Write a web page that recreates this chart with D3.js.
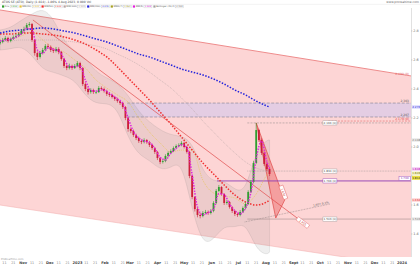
<!DOCTYPE html>
<html>
<head>
<meta charset="utf-8">
<script src="https://cdn.jsdelivr.net/npm/d3@7/dist/d3.min.js"></script>
<style>
  html, body { margin: 0; padding: 0; background: #fff; }
  #chart svg { display: block; }
  text { font-family: "DejaVu Sans", Arial, sans-serif; }
</style>
</head>
<body>
<div id="chart"></div>
<script>
// ---- values ----
var barFrom = "2022-10-06", barTo = "2023-08-06";   // one bar every 3 days
var firstOpen = 2.715;
var closes = [2.724,2.738,2.752,2.731,2.745,2.759,2.766,2.779,2.800,2.814,
  2.841,2.848,2.738,2.648,2.621,2.648,2.669,2.697,2.690,2.669,
  2.662,2.676,2.655,2.607,2.559,2.545,2.559,2.545,2.559,2.579,
  2.545,2.434,2.400,2.379,2.393,2.379,2.379,2.407,2.400,2.386,
  2.366,2.359,2.345,2.331,2.317,2.303,2.276,2.200,2.124,2.110,
  2.083,2.062,2.041,2.034,2.048,2.034,2.014,1.993,1.966,1.924,
  1.897,1.903,1.938,1.959,1.972,1.993,2.007,2.014,2.028,2.000,
  1.966,1.800,1.655,1.572,1.531,1.524,1.545,1.552,1.545,1.559,
  1.614,1.697,1.724,1.676,1.614,1.621,1.586,1.559,1.538,1.531,
  1.552,1.579,1.607,1.690,1.759,1.890,2.117,2.048,1.959,1.883,
  1.848,1.814];
var highs = [2.740,2.752,2.765,2.760,2.755,2.770,2.781,2.790,2.812,2.830,
  2.855,2.862,2.855,2.745,2.660,2.662,2.683,2.710,2.712,2.700,
  2.682,2.690,2.688,2.662,2.615,2.570,2.575,2.568,2.572,2.592,
  2.588,2.552,2.445,2.410,2.405,2.402,2.392,2.420,2.418,2.410,
  2.395,2.378,2.368,2.352,2.340,2.326,2.312,2.283,2.208,2.135,
  2.120,2.092,2.070,2.052,2.060,2.055,2.042,2.022,2.000,1.972,
  1.930,1.915,1.950,1.970,1.984,2.004,2.018,2.026,2.040,2.035,
  2.008,1.972,1.808,1.662,1.580,1.545,1.558,1.566,1.562,1.572,
  1.626,1.710,1.738,1.730,1.682,1.635,1.628,1.592,1.565,1.548,
  1.565,1.590,1.620,1.702,1.772,1.905,2.166,2.125,2.060,1.968,
  1.895,1.860];
var lows = [2.705,2.715,2.730,2.720,2.722,2.738,2.750,2.758,2.772,2.790,
  2.808,2.830,2.725,2.630,2.600,2.610,2.638,2.660,2.676,2.655,
  2.648,2.652,2.640,2.595,2.545,2.530,2.535,2.532,2.538,2.550,
  2.530,2.420,2.385,2.362,2.368,2.366,2.365,2.372,2.390,2.375,
  2.352,2.345,2.334,2.318,2.305,2.290,2.262,2.185,2.105,2.095,
  2.070,2.048,2.028,2.020,2.025,2.022,2.000,1.980,1.952,1.910,
  1.882,1.886,1.895,1.930,1.950,1.965,1.985,1.998,2.005,1.990,
  1.955,1.785,1.640,1.555,1.515,1.508,1.515,1.535,1.532,1.535,
  1.550,1.605,1.688,1.665,1.600,1.602,1.575,1.545,1.524,1.518,
  1.522,1.545,1.570,1.600,1.682,1.750,1.882,2.035,1.945,1.870,
  1.835,1.800];

// moving averages, read every 2nd bar (MM5) or every 4th bar (others)
var mm5 = [2.731,2.738,2.743,2.757,2.781,2.819,2.809,2.669,2.646,2.685,
  2.674,2.664,2.607,2.554,2.554,2.561,2.460,2.391,2.384,2.395,
  2.384,2.357,2.331,2.299,2.200,2.106,2.062,2.041,2.032,1.991,
  1.929,1.912,1.957,1.991,2.016,1.998,1.807,1.586,1.533,1.547,
  1.572,1.678,1.671,1.607,1.561,1.540,1.579,1.685,1.922,2.041,
  1.897,1.848];
var mm20 = [2.738,2.745,2.766,2.793,2.738,2.683,2.655,2.600,2.545,2.462,2.407,2.359,2.310,2.200,
  2.103,2.028,1.966,1.979,1.979,1.772,1.683,1.662,1.648,1.607,1.676,1.807,1.828];
var mm50 = [2.779,2.779,2.786,2.786,2.779,2.772,2.759,2.738,2.710,2.669,2.621,2.552,2.476,2.400,
  2.324,2.241,2.159,2.069,1.979,1.890,1.814,1.738,1.669,1.621,1.600,1.621,1.634];
var mm100 = [2.724,2.731,2.738,2.738,2.738,2.738,2.731,2.724,2.710,2.697,2.676,2.641,2.607,2.566,
  2.517,2.462,2.407,2.338,2.262,2.179,2.103,2.028,1.959,1.897,1.855,1.834,1.828];
var mm200 = [2.786,2.800,2.807,2.814,2.821,2.814,2.800,2.786,2.766,2.745,2.724,2.697,2.669,2.641,
  2.621,2.593,2.566,2.538,2.517,2.497,2.469,2.434,2.393,2.359,2.317,2.283,2.276];
var bollUpper = [2.807,2.821,2.876,2.917,2.959,2.890,2.724,2.662,2.614,2.517,2.476,2.441,2.359,2.241,
  2.172,2.117,2.083,2.076,2.034,1.828,1.759,1.772,1.703,1.690,1.979,2.048,2.048];
var bollLower = [2.669,2.676,2.697,2.634,2.531,2.517,2.490,2.462,2.352,2.297,2.303,2.269,2.062,1.945,
  1.910,1.841,1.855,1.910,1.566,1.324,1.359,1.462,1.441,1.483,1.290,1.255,1.276];

// drawn objects: [date, price]
var channelTop = [["2022-10-06", 2.945], ["2024-01-11", 2.490]];
var channelBottom = [["2022-10-06", 1.600], ["2024-01-11", 1.172]];
var redTrend = [["2022-11-12", 2.876], ["2023-09-17", 1.455]];
var wedge = [["2023-07-21", 2.166], ["2023-08-22", 1.634], ["2023-08-12", 1.510]];
var grayTrend = [["2023-07-08", 1.483], ["2023-10-12", 1.607]];
var zoneFrom = "2023-02-26", zonePrices = [2.303, 2.207];
var levelPrices = [2.166, 2.179, 1.834, 1.766, 1.503];
var levelStarts = ["2023-07-11", "2023-10-10", "2023-07-11", "2023-06-07", "2023-07-11"];
var levelTagDate = "2023-10-04";

// axis labels
var priceTicks = [2.8, 2.6, 2.4, 2.2, 2.0, 1.8, 1.6, 1.4];
var monthStarts = ["2022-11-01","2022-12-01","2023-01-01","2023-02-01","2023-03-01","2023-04-01","2023-05-01",
  "2023-06-01","2023-07-01","2023-08-01","2023-09-01","2023-10-01","2023-11-01","2023-12-01","2024-01-01"];
var monthNames = ["Nov","Dec","2023","Feb","Mar","Apr","May","Jun","Jul","Aug","Sept","Oct","Nov","Dec","2024"];
var minorDays = [11, 21];
var legendNames = ["Prix", "MM(20)", "MM(50)", "MM(100)", "MM(200)", "MMA(7)", "MM(5)", "Bollinger (20,2)"];
var legendValues = ["1.814", "1.828", "1.634", "1.828", "2.276", "1.851", "1.848", "2.048"];
var legendColors = ["#2f9e2f", "#e6c43c", "#f03030", "#b4a4a4", "#2424dc", "#a4a020", "#e020e0", "#a0a0a0"];

// ---- drawing ----
var parse = d3.timeParse("%Y-%m-%d");
var fmt = d3.format(".3f");
var W = 420, H = 265;
var plot = { left: 0, right: 411, top: 8, bottom: 257 };

var x = d3.scaleTime().domain([parse("2022-10-06"), parse("2024-01-11")]).range([plot.left, plot.right]);
var y = d3.scaleLinear().domain([2.6, 1.4]).range([60, 234]);

var barDates = d3.timeDay.range(parse(barFrom), parse(barTo), 3);
var last = closes.length - 1;
var every4 = d3.range(0, last, 4).concat([last]);
var every2 = d3.range(0, last, 2).concat([last]);

var svg = d3.select("#chart").append("svg").attr("width", W).attr("height", H);
svg.append("rect").attr("width", W).attr("height", H).attr("fill", "#fff");
svg.append("defs").append("clipPath").attr("id", "clip").append("rect")
    .attr("x", plot.left).attr("y", plot.top)
    .attr("width", plot.right - plot.left).attr("height", plot.bottom - plot.top);
var g = svg.append("g").attr("clip-path", "url(#clip)");

function pt(d) { return [x(parse(d[0])), y(d[1])]; }
function seg(a, b, color, w, dash) {
    var l = g.append("line").attr("x1", a[0]).attr("y1", a[1]).attr("x2", b[0]).attr("y2", b[1])
        .attr("stroke", color).attr("stroke-width", w);
    if (dash) l.attr("stroke-dasharray", dash);
    return l;
}

// pink regression channel
var chan = [channelTop[0], channelTop[1], channelBottom[1], channelBottom[0]].map(pt);
g.append("path").attr("d", "M" + chan.join("L") + "Z").attr("fill", "#fdd5d5");
seg(chan[0], chan[1], "#ee8c8c", 1);
seg(chan[3], chan[2], "#f3b4b4", 0.6);

// resistance zone
var zx = x(parse(zoneFrom));
g.append("rect").attr("x", zx).attr("y", y(zonePrices[0]))
    .attr("width", plot.right - zx).attr("height", y(zonePrices[1]) - y(zonePrices[0]))
    .attr("fill", "#e4cde3");
zonePrices.forEach(function (p) {
    seg([zx, y(p)], [plot.right, y(p)], "#8e8698", 0.7, "3,1.5");
});

// bollinger envelope
var bollArea = d3.area()
    .x(function (d, k) { return x(barDates[every4[k]]); })
    .y0(function (d, k) { return y(bollLower[k]); })
    .y1(function (d) { return y(d); })
    .curve(d3.curveBasis);
g.append("path").datum(bollUpper).attr("d", bollArea)
    .attr("fill", "rgba(140,140,140,0.14)")
    .attr("stroke", "rgba(120,120,120,0.3)").attr("stroke-width", 0.5);

// long red trend line and falling wedge
var rt = redTrend.map(pt);
seg(rt[0], rt[1], "#e35c5c", 0.8);
var wd = wedge.map(pt);
g.append("path").attr("d", "M" + wd.join("L") + "Z")
    .attr("fill", "rgba(228,70,70,0.38)").attr("stroke", "#e04848").attr("stroke-width", 0.7);
var gt = grayTrend.map(pt);
seg(gt[0], gt[1], "#8c8080", 0.6, "0.8,0.8");

// horizontal levels
var levelStyle = [
    { c: "#a09494", w: 0.6, dash: "2,1.2" },
    { c: "#e46a6a", w: 0.6, dash: "2,1.2" },
    { c: "#a09494", w: 0.6, dash: "0.8,0.8" },
    { c: "#8e3cb4", w: 0.9, dash: null },
    { c: "#a48c8c", w: 0.6, dash: null }
];
levelPrices.forEach(function (p, i) {
    var s = levelStyle[i];
    seg([x(parse(levelStarts[i])), y(p)], [plot.right, y(p)], s.c, s.w, s.dash);
});

// moving averages
function maPath(vals, idx) {
    return d3.line()
        .x(function (d, k) { return x(barDates[idx[k]]); })
        .y(function (d) { return y(d); })
        .curve(d3.curveMonotoneX)(vals);
}
function drawMA(vals, idx, color, w, dash) {
    g.append("path").attr("d", maPath(vals, idx)).attr("fill", "none")
        .attr("stroke", color).attr("stroke-width", w).attr("stroke-dasharray", dash);
}
drawMA(mm100, every4, "#b8a6a6", 0.6, "1,1");
drawMA(mm20, every4, "#e6c43c", 0.6, "1,1");
drawMA(mm50, every4, "#f03030", 1.5, "1.5,1.5");
drawMA(mm200, every4, "#2424dc", 1.5, "1.5,1.5");

// candles (open = previous close)
var candles = g.append("g");
closes.forEach(function (c, i) {
    var o = i ? closes[i - 1] : firstOpen;
    var cx = x(barDates[i]);
    var col = c >= o ? "#2f9e2f" : "#cc1f3a";
    candles.append("line").attr("x1", cx).attr("x2", cx)
        .attr("y1", y(highs[i])).attr("y2", y(lows[i]))
        .attr("stroke", col).attr("stroke-width", 0.6);
    candles.append("rect").attr("x", cx - 0.9).attr("width", 1.8)
        .attr("y", y(Math.max(o, c)))
        .attr("height", Math.max(0.6, Math.abs(y(o) - y(c))))
        .attr("fill", col);
});

drawMA(mm5, every2, "#e020e0", 1.5, "1.4,1.3");

// small tags on drawn objects
function tag(px, py, angle, text, stroke, color) {
    var t = g.append("g").attr("transform", "translate(" + px + "," + py + ") rotate(" + angle + ")");
    t.append("rect").attr("x", -7).attr("y", -2.1).attr("width", 14).attr("height", 4.2)
        .attr("fill", "#fff").attr("stroke", stroke).attr("stroke-width", 0.4);
    t.append("text").attr("text-anchor", "middle").attr("y", 1.1)
        .attr("font-size", 2.8).attr("fill", color).text(text);
}
var tagX = x(parse(levelTagDate)) + 7;
levelPrices.forEach(function (p, i) {
    if (i === 1) return;
    tag(tagX, y(p), 0, fmt(p) + " (0)", i === 3 ? "#8e3cb4" : "#999", "#555");
});
tag(rt[1][0] - 5, rt[1][1] - 3.5, Math.atan2(rt[1][1] - rt[0][1], rt[1][0] - rt[0][0]) * 180 / Math.PI,
    fmt(redTrend[1][1]), "#e35c5c", "#c33");
var wa = Math.atan2(wd[1][1] - wd[0][1], wd[1][0] - wd[0][0]) * 180 / Math.PI;
tag(wd[0][0] + (wd[1][0] - wd[0][0]) * 0.9 + 1.5, wd[0][1] + (wd[1][1] - wd[0][1]) * 0.9, wa,
    fmt(wedge[1][1]), "#e04848", "#c33");
g.append("text").attr("x", gt[1][0] - 1).attr("y", gt[1][1] - 1).attr("text-anchor", "end")
    .attr("font-size", 2.8).attr("fill", "#666")
    .attr("transform", "rotate(" + (Math.atan2(gt[1][1] - gt[0][1], gt[1][0] - gt[0][0]) * 180 / Math.PI) + "," + gt[1][0] + "," + gt[1][1] + ")")
    .text(fmt(grayTrend[1][1]) + " 8.3%");

// purple tag at the right end of the purple level
var pl = g.append("g");
pl.append("rect").attr("x", 399).attr("y", y(levelPrices[3]) - 4.6).attr("width", 11.5).attr("height", 4)
    .attr("fill", "#fff").attr("stroke", "#8e3cb4").attr("stroke-width", 0.4);
pl.append("text").attr("x", 404.7).attr("y", y(levelPrices[3]) - 1.6).attr("text-anchor", "middle")
    .attr("font-size", 2.8).attr("fill", "#8e3cb4").text(fmt(levelPrices[3]));

// right-edge labels inside the plot
function edgeText(p, dy, text, color) {
    g.append("text").attr("x", plot.right - 2).attr("y", y(p) + dy).attr("text-anchor", "end")
        .attr("font-size", 3).attr("fill", color).text(text);
}
edgeText(channelTop[1][1], -1.2, fmt(channelTop[1][1]) + " (0)", "#e06060");
edgeText(zonePrices[0], -1, fmt(zonePrices[0]), "#555");
edgeText(zonePrices[1], -1, fmt(zonePrices[1]), "#555");
edgeText(levelPrices[1], -0.8, fmt(levelPrices[1]) + " (0)", "#e04040");

// ---- right price axis ----
svg.append("line").attr("x1", plot.right + 0.5).attr("x2", plot.right + 0.5)
    .attr("y1", plot.top).attr("y2", plot.bottom).attr("stroke", "#ccc").attr("stroke-width", 0.6);

// coloured value tags, pushed apart so they do not overlap
var rightTags = [
    { v: mm200[mm200.length - 1], fill: "#e2e2ff", color: "#2424dc" },
    { v: bollUpper[bollUpper.length - 1], fill: "#eeeeee", color: "#777" },
    { v: mm5[mm5.length - 1], fill: "#f6d6f6", color: "#c010c0" },
    { v: mm20[mm20.length - 1], fill: "#f2f0c4", color: "#8a8a10" },
    { v: closes[last], fill: "#ece040", color: "#333" },
    { v: mm50[mm50.length - 1], fill: "#ffdcdc", color: "#e02020" },
    { v: levelPrices[4], fill: "#eeeeee", color: "#777" }
];
var prevY = -10, tagYs = [];
rightTags.forEach(function (t) {
    var ty = Math.max(y(t.v), prevY + 4.4);
    prevY = ty;
    tagYs.push(ty);
    svg.append("rect").attr("x", plot.right + 1).attr("y", ty - 2).attr("width", 8.5).attr("height", 4)
        .attr("fill", t.fill);
    svg.append("text").attr("x", plot.right + 5.2).attr("y", ty + 1).attr("text-anchor", "middle")
        .attr("font-size", 2.8).attr("fill", t.color).text(fmt(t.v));
});

// plain ticks, skipped where a tag sits on them
priceTicks.forEach(function (p) {
    svg.append("line").attr("x1", plot.right).attr("x2", plot.right + 1.5)
        .attr("y1", y(p)).attr("y2", y(p)).attr("stroke", "#999").attr("stroke-width", 0.4);
    var hidden = tagYs.some(function (ty) { return Math.abs(ty - y(p)) < 4.5; });
    if (hidden) return;
    svg.append("text").attr("x", plot.right + 2.3).attr("y", y(p) + 1.2)
        .attr("font-size", 3.4).attr("fill", "#666").text(p.toFixed(1));
});

// ---- time axis ----
monthStarts.forEach(function (d, i) {
    svg.append("text").attr("x", x(parse(d))).attr("y", 264).attr("text-anchor", "middle")
        .attr("font-size", 3.6).attr("font-weight", "bold").attr("fill", "#444").text(monthNames[i]);
});
d3.timeMonth.range(parse("2022-10-01"), parse("2024-01-01")).forEach(function (m) {
    minorDays.forEach(function (day) {
        var d = new Date(m.getFullYear(), m.getMonth(), day);
        var px = x(d);
        if (px < 2 || px > plot.right - 2) return;
        svg.append("text").attr("x", px).attr("y", 264).attr("text-anchor", "middle")
            .attr("font-size", 3.3).attr("fill", "#888").text(day);
    });
});
svg.append("text").attr("x", 1).attr("y", 259.5).attr("font-size", 2.6).attr("fill", "#999").text("ProRealTime.com");

// ---- title and legend ----
svg.append("line").attr("x1", 0).attr("x2", W).attr("y1", 4.4).attr("y2", 4.4)
    .attr("stroke", "#e4e4e4").attr("stroke-width", 0.4);
svg.append("text").attr("x", 2).attr("y", 3.2).attr("font-size", 3).attr("fill", "#444")
    .text("ATOS SE (ATO), Daily (1.814) -1.86% 4 Aug 2023, 0.000 Vol");
svg.append("text").attr("x", 419).attr("y", 3.2).attr("text-anchor", "end")
    .attr("font-size", 3).attr("fill", "#666").text("www.prorealtime.com");

var lx = 2;
legendNames.forEach(function (name, i) {
    svg.append("rect").attr("x", lx).attr("y", 5.4).attr("width", 2.2).attr("height", 2.2)
        .attr("fill", legendColors[i]);
    lx += 2.8;
    var t = svg.append("text").attr("x", lx).attr("y", 7.4).attr("font-size", 2.4)
        .attr("fill", "#555").text(name);
    lx += t.node().getComputedTextLength() + 0.8;
    svg.append("rect").attr("x", lx).attr("y", 5.2).attr("width", 8).attr("height", 2.7)
        .attr("fill", "#fff").attr("stroke", "#bbb").attr("stroke-width", 0.3);
    svg.append("text").attr("x", lx + 4).attr("y", 7.3).attr("text-anchor", "middle")
        .attr("font-size", 2.2).attr("fill", legendColors[i] === "#a0a0a0" ? "#777" : legendColors[i])
        .text(legendValues[i]);
    lx += 9.4;
});
</script>
</body>
</html>
